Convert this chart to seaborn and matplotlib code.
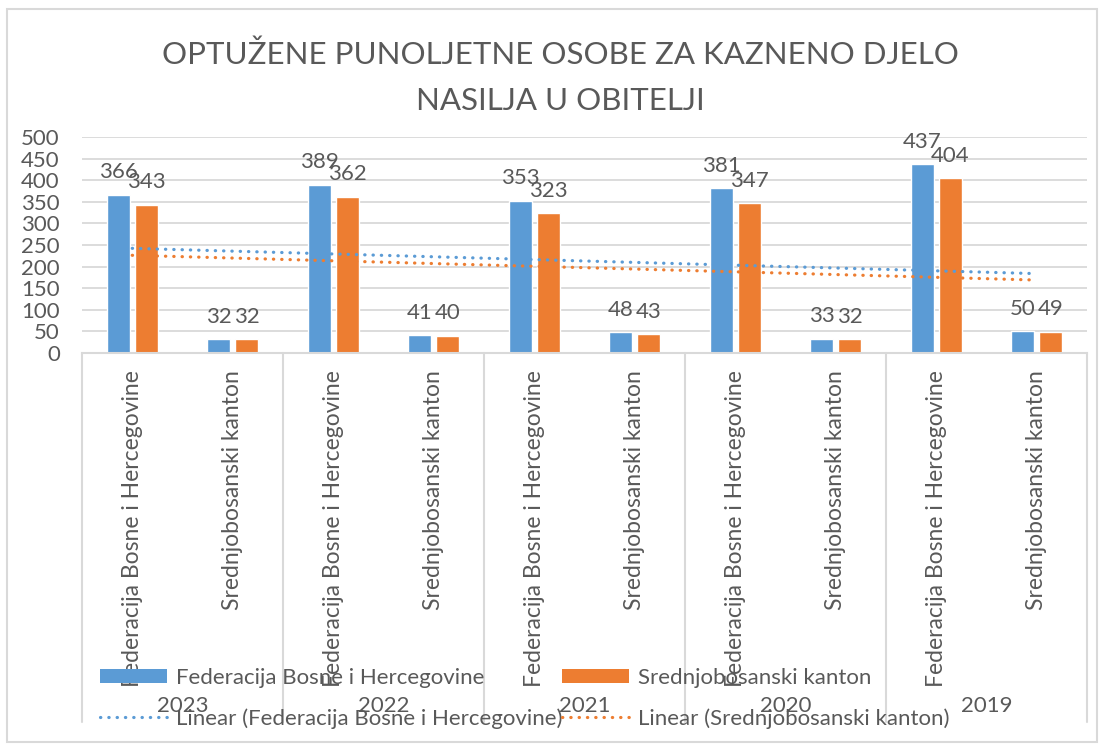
import numpy as np
import pandas as pd
import matplotlib
matplotlib.use("Agg")
import matplotlib.pyplot as plt
import seaborn as sns
from matplotlib.patches import Patch, Rectangle
from matplotlib.lines import Line2D

# ---- data ----
years = ["2023", "2022", "2021", "2020", "2019"]
regions = ["Federacija Bosne i Hercegovine", "Srednjobosanski kanton"]
series_names = ["Federacija Bosne i Hercegovine", "Srednjobosanski kanton"]
fbih_values = [366, 32, 389, 41, 353, 48, 381, 33, 437, 50]
sbk_values = [343, 32, 362, 40, 323, 43, 347, 32, 404, 49]
y_ticks = [0, 50, 100, 150, 200, 250, 300, 350, 400, 450, 500]
title = "OPTUŽENE PUNOLJETNE OSOBE ZA KAZNENO DJELO\nNASILJA U OBITELJI"

BLUE = "#5B9BD5"
ORANGE = "#ED7D31"
TEXT = "#595959"
GRID = "#D9D9D9"

sns.set_style("white")
plt.rcParams["font.family"] = ["Lato", "DejaVu Sans"]

cat_keys = [f"{y}|{r}" for y in years for r in regions]
df = pd.DataFrame({
    "category": cat_keys * 2,
    "series": [series_names[0]] * len(cat_keys) + [series_names[1]] * len(cat_keys),
    "value": fbih_values + sbk_values,
})

W, H = 1107, 749
fig = plt.figure(figsize=(W / 100, H / 100), dpi=100)

# chart border
fig.patches.append(Rectangle((7 / W, 7 / H), (1097 - 7) / W, (740 - 7) / H,
                             transform=fig.transFigure, fill=False,
                             edgecolor=GRID, linewidth=1.5))

ax = fig.add_axes([82 / W, 1 - 353 / H, (1087 - 82) / W, (353 - 137) / H])
sns.barplot(data=df, x="category", y="value", hue="series", order=cat_keys,
            hue_order=series_names, palette=[BLUE, ORANGE], width=0.56, gap=0.18,
            saturation=1, ax=ax, legend=False)

ax.set_xlim(-0.5, len(cat_keys) - 0.5)
ax.set_ylim(0, 500)
ax.set_xlabel("")
ax.set_ylabel("")

# value labels
for cont in ax.containers:
    ax.bar_label(cont, fmt="%d", padding=9, fontsize=16, color=TEXT)

# linear trendlines
xs = np.arange(len(cat_keys))
for vals, col in [(fbih_values, BLUE), (sbk_values, ORANGE)]:
    k, b = np.polyfit(xs, vals, 1)
    xe = np.array([xs[0], xs[-1]])
    ax.plot(xe, k * xe + b, color=col, lw=2.3, linestyle=(0, (0.1, 2.5)),
            dash_capstyle="round", zorder=5)

# axes styling
for s in ["top", "right", "left"]:
    ax.spines[s].set_visible(False)
ax.spines["bottom"].set_color(GRID)
ax.spines["bottom"].set_linewidth(1.5)
ax.yaxis.grid(True, color=GRID, lw=1.3)
ax.set_axisbelow(True)
ax.set_yticks(y_ticks)
ax.set_yticklabels([str(t) for t in y_ticks], fontsize=16, color=TEXT)
ax.tick_params(axis="y", length=0, pad=16)
ax.set_xticks(xs)
ax.set_xticklabels([regions[i % 2] for i in range(len(cat_keys))], rotation=90,
                   fontsize=16.5, color=TEXT)
ax.tick_params(axis="x", length=0, pad=12)

# year group separators and labels
px = 1.0 / (353 - 137)
ybot = -(722 - 353) * px
xt = ax.get_xaxis_transform()
for xb in np.arange(-0.5, len(cat_keys), 2):
    ax.plot([xb, xb], [0, ybot], transform=xt, clip_on=False, color=GRID, lw=1.5)
for i, yr in enumerate(years):
    ax.text(2 * i + 0.5, -(706 - 353) * px, yr, transform=xt, ha="center",
            va="center", fontsize=16, color=TEXT)

# title
fig.text(0.506, 1 - 78 / H, title, ha="center", va="center", fontsize=22.5,
         color=TEXT, linespacing=1.8)

# legend
handles = [
    Patch(facecolor=BLUE, edgecolor="none"),
    Line2D([0], [0], color=BLUE, lw=2.3, linestyle=(0, (0.1, 2.5)), dash_capstyle="round"),
    Patch(facecolor=ORANGE, edgecolor="none"),
    Line2D([0], [0], color=ORANGE, lw=2.3, linestyle=(0, (0.1, 2.5)), dash_capstyle="round"),
]
labels = [series_names[0], f"Linear ({series_names[0]})",
          series_names[1], f"Linear ({series_names[1]})"]
leg = fig.legend(handles, labels, ncol=2, loc="upper left",
                 bbox_to_anchor=(100 / W, 1 - 668 / H), frameon=False,
                 fontsize=16, labelcolor=TEXT, handlelength=3.0, handleheight=0.55,
                 handletextpad=0.4, columnspacing=0.0, labelspacing=0.9,
                 borderpad=0, borderaxespad=0)

fig.savefig("out.png", dpi=100)
